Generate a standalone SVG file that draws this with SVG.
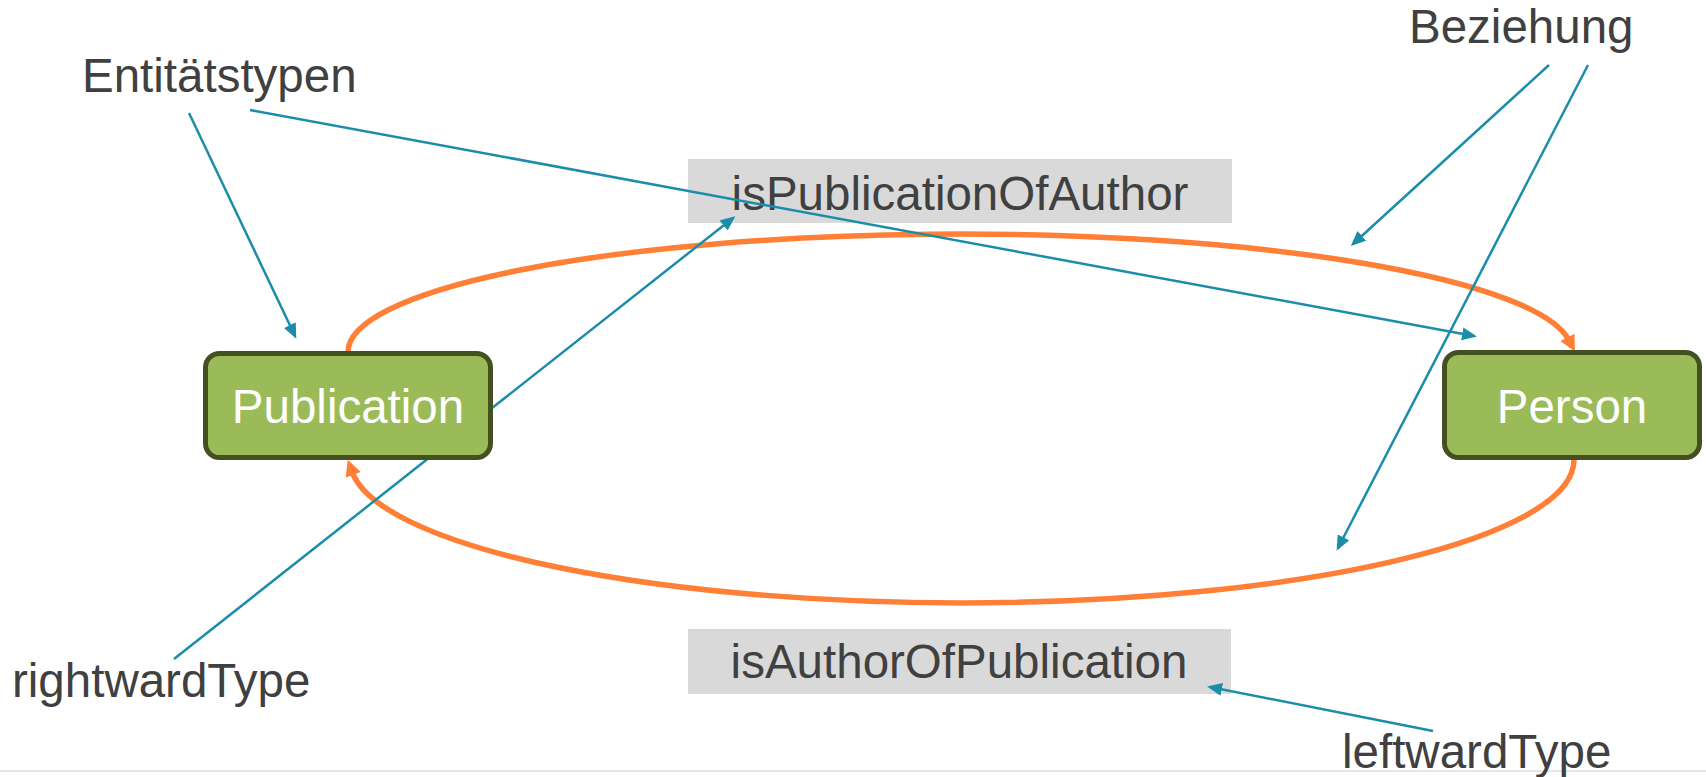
<svg xmlns="http://www.w3.org/2000/svg" width="1706" height="777" viewBox="0 0 1706 777">
  <style>
    .entity rect { fill: #9BBB59; stroke: #43501F; stroke-width: 5; }
    .entity text { fill: #FFFFFF; font-family: "Liberation Sans", Arial, sans-serif; font-size: 47.5px; text-anchor: middle; }
    .rel rect { fill: #D9D9D9; stroke: none; }
    .rel text { fill: #404040; font-family: "Liberation Sans", Arial, sans-serif; font-size: 47.5px; text-anchor: middle; }
    .note { fill: #404040; font-family: "Liberation Sans", Arial, sans-serif; font-size: 47.5px; }
    .arc { fill: none; stroke: #FF7F36; stroke-width: 5.5; marker-end: url(#ao); }
    .pointer { fill: none; stroke: #1B8DAA; stroke-width: 2.5; marker-end: url(#ab); }
  </style>
  <defs>
    <marker id="ao" markerUnits="userSpaceOnUse" markerWidth="16" markerHeight="16" viewBox="0 0 16 16" refX="3" refY="8" orient="auto">
      <path d="M0,0 L16,8 L0,16 z" fill="#FF7F36"/>
    </marker>
    <marker id="ab" markerUnits="userSpaceOnUse" markerWidth="15" markerHeight="13" viewBox="0 0 15 13" refX="12" refY="6.5" orient="auto">
      <path d="M0,0 L15,6.5 L0,13 z" fill="#1B8DAA"/>
    </marker>
  </defs>

  <rect x="0" y="0" width="1706" height="777" fill="#FFFFFF"/>
  <line x1="0" y1="771" x2="1706" y2="771" stroke="#E6E6EA" stroke-width="2"/>

  <g id="rel-top" class="rel">
    <rect x="688" y="159" width="544" height="64"/>
    <text x="960" y="210">isPublicationOfAuthor</text>
  </g>
  <g id="rel-bottom" class="rel">
    <rect x="688" y="629" width="543" height="65"/>
    <text x="959" y="678">isAuthorOfPublication</text>
  </g>

  <g id="connectors">
    <path class="arc" d="M348,352 A612,118 0 0 1 1568.8,340"/>
    <path class="arc" d="M1574,460 A612,143 0 0 1 352.2,472"/>
    <line class="pointer" x1="189" y1="113" x2="295" y2="336"/>
    <line class="pointer" x1="250" y1="110" x2="1474" y2="336"/>
    <line class="pointer" x1="1549" y1="65" x2="1353" y2="244"/>
    <line class="pointer" x1="1588" y1="65" x2="1338" y2="548"/>
    <line class="pointer" x1="174" y1="659" x2="733" y2="218"/>
    <line class="pointer" x1="1433" y1="731" x2="1210" y2="687"/>
  </g>

  <g id="publication" class="entity">
    <rect x="205.5" y="353.5" width="285" height="104" rx="14" ry="14"/>
    <text x="348" y="423">Publication</text>
  </g>
  <g id="person" class="entity">
    <rect x="1444.5" y="352.5" width="255" height="105" rx="14" ry="14"/>
    <text x="1572" y="423">Person</text>
  </g>

  <g id="label-entitaetstypen">
    <text class="note" x="82" y="92">Entitätstypen</text>
  </g>
  <g id="label-beziehung">
    <text class="note" x="1409" y="43">Beziehung</text>
  </g>
  <g id="label-rightwardtype">
    <text class="note" x="12" y="697">rightwardType</text>
  </g>
  <g id="label-leftwardtype">
    <text class="note" x="1342" y="768">leftwardType</text>
  </g>
</svg>
